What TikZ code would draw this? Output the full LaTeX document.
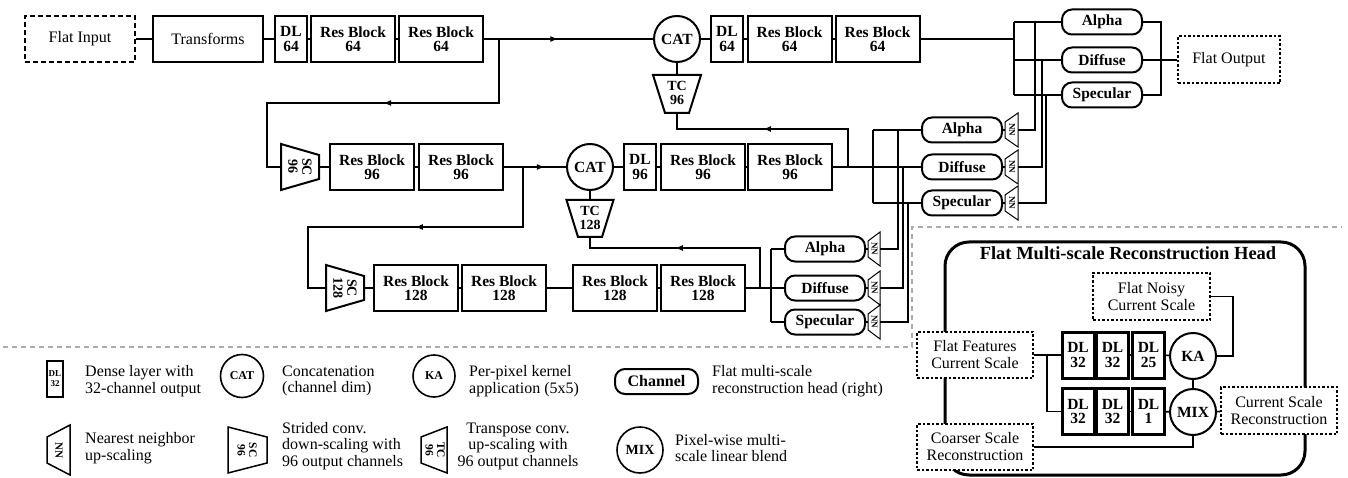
\documentclass[tikz,border=0pt]{standalone}
\usepackage{fontspec}
\setmainfont{Liberation Serif}
\usetikzlibrary{calc,arrows.meta,decorations.markings}
\begin{document}
\begin{tikzpicture}[x=1pt,y=-1pt,
  conn/.style={line width=1.6pt, line join=miter},
  marr/.style={postaction={decorate}, decoration={markings, mark=at position #1 with {\arrow{Latex[length=8pt,width=6pt]}}}},
  bfm/.style={font=\fontsize{15.5}{14.5}\selectfont\bfseries},
  blk/.style={draw, line width=2pt, inner sep=0pt, align=center, minimum height=46pt, bfm},
  dlbox/.style={blk, minimum width=32pt},
  resbox/.style={blk, minimum width=84pt},
  plainbox/.style={draw, line width=2pt, inner sep=0pt, align=center, minimum height=46pt, minimum width=110pt, font=\fontsize{16}{17}\selectfont},
  catc/.style={draw, circle, line width=2pt, minimum size=46pt, inner sep=0pt, font=\fontsize{15.5}{15}\selectfont\bfseries},
  pill/.style={draw, rounded corners=10pt, line width=2pt, minimum width=80pt, minimum height=25pt, inner sep=0pt, font=\fontsize{15.5}{15}\selectfont\bfseries},
  ghost/.style={inner sep=0pt, outer sep=0pt},
  trap/.style={line width=2pt, line join=miter},
  nnline/.style={line width=1pt, line join=miter},
  nntext/.style={rotate=-90, inner sep=0pt, font=\fontsize{9}{9}\selectfont\bfseries},
  traptext/.style={inner sep=0pt, align=center, font=\fontsize{14}{14}\selectfont\bfseries},
  dotbox/.style={draw, fill=white, line width=2pt, dash pattern=on 2.5pt off 2pt, inner sep=0pt, align=center, minimum width=116pt, minimum height=46pt, font=\fontsize{16}{17}\selectfont},
  hdl/.style={draw, line width=3pt, inner sep=0pt, align=center, minimum width=32pt, minimum height=46pt, bfm},
  legtext/.style={inner sep=0pt, align=left, font=\fontsize{16}{16.5}\selectfont},
]
\useasboundingbox (0,0) rectangle (1348,478);

% ---------- separators ----------
\draw[gray!65, line width=1.2pt, dash pattern=on 5pt off 4pt] (3,347) -- (912,347) -- (912,227) -- (1342,227);

% ---------- row 1 ----------
\node[plainbox, dash pattern=on 5pt off 3pt, line width=2.5pt] (fin) at (80,39) {Flat Input};
\node[plainbox] (tr) at (208,39) {Transforms};
\node[dlbox] (dl1) at (291,39) {DL\\64};
\node[resbox] (rb1a) at (353,39) {Res Block\\64};
\node[resbox] (rb1b) at (441,39) {Res Block\\64};
\node[catc] (cat1) at (677,39) {CAT};
\node[dlbox] (dl1b) at (727,39) {DL\\64};
\node[resbox] (rb1c) at (789.5,39) {Res Block\\64};
\node[resbox] (rb1d) at (877.5,39) {Res Block\\64};
\node[ghost, minimum width=48pt, minimum height=38pt] (tc96) at (677,94) {};
\draw[trap] (tc96.north west) -- (tc96.north east) -- ([xshift=-12pt]tc96.south east) -- ([xshift=12pt]tc96.south west) -- cycle;
\node[traptext] (tc96t) at (677,93) {TC\\96};

\draw[conn] (fin) -- (tr);
\draw[conn] (tr) -- (dl1);
\draw[conn] (dl1) -- (rb1a);
\draw[conn] (rb1a) -- (rb1b);
\draw[conn, marr=0.44] (rb1b) -- (cat1);
\draw[conn] (cat1) -- (dl1b);
\draw[conn] (dl1b) -- (rb1c);
\draw[conn] (rb1c) -- (rb1d);
\draw[conn] (cat1) -- (tc96);

% heads row 1
\node[pill] (alpha1) at (1102,22) {Alpha};
\node[pill] (diff1) at (1102,60) {Diffuse};
\node[pill] (spec1) at (1102,95) {Specular};
\node[plainbox, minimum width=102pt, minimum height=47pt, dash pattern=on 2.5pt off 2pt] (fout) at (1229,60) {Flat Output};
\coordinate (ba1) at (1014,22);
\coordinate (bm1) at (1014,39);
\coordinate (bd1) at (1014,60);
\coordinate (bs1) at (1014,95);
\coordinate (oa1) at (1161,22);
\coordinate (os1) at (1161,95);
\draw[conn] (rb1d) -- (bm1);
\draw[conn] (ba1) -- (bs1);
\draw[conn] (ba1) -- (alpha1);
\draw[conn] (bd1) -- (diff1);
\draw[conn] (bs1) -- (spec1);
\draw[conn] (alpha1) -- (oa1) -- (os1) -- (spec1);
\draw[conn] (diff1) -- (fout);

% ---------- row 2 ----------
\node[ghost, minimum width=38pt, minimum height=46pt] (sc96) at (300,167) {};
\draw[trap] (sc96.north west) -- (sc96.south west) -- ([yshift=11pt]sc96.south east) -- ([yshift=-11pt]sc96.north east) -- cycle;
\node[traptext, rotate=-90] (sc96t) at (300,167) {SC\\96};
\node[resbox] (rb2a) at (372,167) {Res Block\\96};
\node[resbox] (rb2b) at (461,167) {Res Block\\96};
\node[catc] (cat2) at (590,167) {CAT};
\node[dlbox] (dl2) at (640,167) {DL\\96};
\node[resbox] (rb2c) at (703,167) {Res Block\\96};
\node[resbox] (rb2d) at (790,167) {Res Block\\96};
\node[ghost, minimum width=47pt, minimum height=37pt] (tc128) at (590,218.5) {};
\draw[trap] (tc128.north west) -- (tc128.north east) -- ([xshift=-11.5pt]tc128.south east) -- ([xshift=11.5pt]tc128.south west) -- cycle;
\node[traptext] (tc128t) at (590,217.5) {TC\\128};

\draw[conn] (sc96) -- (rb2a);
\draw[conn] (rb2a) -- (rb2b);
\draw[conn, marr=0.66] (rb2b) -- (cat2);
\draw[conn] (cat2) -- (dl2);
\draw[conn] (dl2) -- (rb2c);
\draw[conn] (rb2c) -- (rb2d);
\draw[conn] (cat2) -- (tc128);

% heads row 2
\node[pill] (alpha2) at (962,130) {Alpha};
\node[pill] (diff2) at (962,167) {Diffuse};
\node[pill] (spec2) at (962,203) {Specular};
\foreach \nm/\yy in {nn2a/130, nn2b/167, nn2c/203}{
  \node[ghost, minimum width=13pt, minimum height=34pt] (\nm) at (1011.5,\yy) {};
  \draw[nnline] (\nm.north east) -- (\nm.south east) -- ([yshift=9pt]\nm.south west) -- ([yshift=-9pt]\nm.north west) -- cycle;
  \node[nntext] (\nm t) at (1012,\yy) {NN};
}
\coordinate (ba2) at (873,130);
\coordinate (bm2) at (873,167);
\coordinate (bs2) at (873,203);
\draw[conn] (rb2d) -- (bm2);
\draw[conn] (ba2) -- (bs2);
\draw[conn] (ba2) -- (alpha2);
\draw[conn] (bm2) -- (diff2);
\draw[conn] (bs2) -- (spec2);
\draw[conn] (alpha2) -- (nn2a);
\draw[conn] (diff2) -- (nn2b);
\draw[conn] (spec2) -- (nn2c);
\coordinate (ua) at (1035,22);
\coordinate (ud) at (1042,60);
\coordinate (us) at (1046,95);
\draw[conn] (nn2a.east) -| (ua);
\draw[conn] (nn2b.east) -| (ud);
\draw[conn] (nn2c.east) -| (us);

% ---------- row 3 ----------
\node[ghost, minimum width=38pt, minimum height=46pt] (sc128) at (345,288) {};
\draw[trap] (sc128.north west) -- (sc128.south west) -- ([yshift=11pt]sc128.south east) -- ([yshift=-11pt]sc128.north east) -- cycle;
\node[traptext, rotate=-90] (sc128t) at (345,288) {SC\\128};
\node[resbox] (rb3a) at (416,288) {Res Block\\128};
\node[resbox] (rb3b) at (504,288) {Res Block\\128};
\node[resbox] (rb3c) at (615,288) {Res Block\\128};
\node[resbox] (rb3d) at (703,288) {Res Block\\128};
\draw[conn] (sc128) -- (rb3a);
\draw[conn] (rb3a) -- (rb3b);
\draw[conn] (rb3b) -- (rb3c);
\draw[conn] (rb3c) -- (rb3d);

% heads row 3
\node[pill] (alpha3) at (825,249) {Alpha};
\node[pill] (diff3) at (825,288) {Diffuse};
\node[pill] (spec3) at (825,322) {Specular};
\foreach \nm/\yy in {nn3a/249, nn3b/288, nn3c/322}{
  \node[ghost, minimum width=12pt, minimum height=34pt] (\nm) at (874,\yy) {};
  \draw[nnline] (\nm.north east) -- (\nm.south east) -- ([yshift=9pt]\nm.south west) -- ([yshift=-9pt]\nm.north west) -- cycle;
  \node[nntext] (\nm t) at (874.5,\yy) {NN};
}
\coordinate (ba3) at (771,249);
\coordinate (bm3) at (771,288);
\coordinate (bs3) at (771,322);
\draw[conn] (rb3d) -- (bm3);
\draw[conn] (ba3) -- (bs3);
\draw[conn] (ba3) -- (alpha3);
\draw[conn] (bm3) -- (diff3);
\draw[conn] (bs3) -- (spec3);
\draw[conn] (alpha3) -- (nn3a);
\draw[conn] (diff3) -- (nn3b);
\draw[conn] (spec3) -- (nn3c);
\coordinate (va) at (898,130);
\coordinate (vd) at (903,167);
\coordinate (vs) at (908,203);
\draw[conn] (nn3a.east) -| (va);
\draw[conn] (nn3b.east) -| (vd);
\draw[conn] (nn3c.east) -| (vs);

% ---------- inter-row links ----------
\coordinate (j1) at (499,39);
\coordinate (k1) at (267,103);
\draw[conn, marr=0.481] (j1) |- (k1) |- (sc96.west);
\coordinate (j2) at (523,167);
\coordinate (k2) at (308,227);
\draw[conn, marr=0.475] (j2) |- (k2) |- (sc128.west);
\coordinate (j3) at (848,167);
\coordinate (k3) at (677,129);
\draw[conn, marr=0.547] (j3) |- (k3) -- (tc96.south);
\coordinate (j4) at (760,288);
\coordinate (k4) at (590,248);
\draw[conn, marr=0.566] (j4) |- (k4) -- (tc128.south);

% ---------- reconstruction head ----------
\node[draw, line width=3pt, rounded corners=24pt, minimum width=360pt, minimum height=233pt, ghost] (headbox) at (1125,358.5) {};
\node[inner sep=0pt, font=\fontsize{18.5}{19}\selectfont\bfseries] (htitle) at (1128,253) {Flat Multi-scale Reconstruction Head};
\node[dotbox, minimum width=117pt, minimum height=47pt] (noisy) at (1151.5,296.5) {Flat Noisy\\Current Scale};
\node[dotbox] (feat) at (975,355) {Flat Features\\Current Scale};
\node[dotbox] (coarse) at (975,447) {Coarser Scale\\Reconstruction};
\node[dotbox, minimum height=47pt] (curr) at (1279,410.5) {Current Scale\\Reconstruction};
\node[hdl] (h1) at (1078,355) {DL\\32};
\node[hdl] (h2) at (1112.5,355) {DL\\32};
\node[hdl] (h3) at (1148.5,355) {DL\\25};
\node[catc] (ka) at (1193,356) {KA};
\node[hdl] (h4) at (1078,411.5) {DL\\32};
\node[hdl] (h5) at (1112.5,411.5) {DL\\32};
\node[hdl] (h6) at (1148.5,411.5) {DL\\1};
\node[catc] (mix) at (1193,412) {MIX};
\coordinate (fj) at (1047,355);
\coordinate (kj) at (1233,356);
\draw[conn] (feat) -- (h1);
\draw[conn] (fj) |- (h4.west);
\draw[conn] (h1) -- (h2);
\draw[conn] (h2) -- (h3);
\draw[conn] (h3) -- (ka);
\draw[conn] (h4) -- (h5);
\draw[conn] (h5) -- (h6);
\draw[conn] (h6) -- (mix);
\draw[conn] (ka.east) -- (kj) |- (noisy.east);
\draw[conn] (ka) -- (mix);
\draw[conn] (mix) -- (curr);
\draw[conn] (coarse.east) -| (mix.south);

% ---------- legend ----------
\node[draw, line width=1.5pt, minimum width=16pt, minimum height=36pt, inner sep=0pt, align=center, font=\fontsize{9}{10}\selectfont\bfseries] (ldl) at (55,379) {DL\\32};
\node[legtext, anchor=west] (ldlt) at (85,381) {Dense layer with\\32-channel output};
\node[draw, circle, line width=1.6pt, minimum size=43pt, inner sep=0pt, font=\fontsize{12}{12}\selectfont\bfseries] (lcat) at (242,376) {CAT};
\node[legtext, anchor=west] (lcatt) at (282,381) {Concatenation\\(channel dim)};
\node[draw, circle, line width=1.6pt, minimum size=42pt, inner sep=0pt, font=\fontsize{12}{12}\selectfont\bfseries] (lka) at (434,376) {KA};
\node[legtext, anchor=west] (lkat) at (469,381) {Per-pixel kernel\\application (5x5)};
\node[pill, minimum width=83pt, font=\fontsize{16}{16}\selectfont\bfseries] (lch) at (656.5,381.5) {Channel};
\node[legtext, anchor=west] (lcht) at (712,381) {Flat multi-scale\\reconstruction head (right)};

\node[ghost, minimum width=23pt, minimum height=50pt] (lnn) at (58.5,450) {};
\draw[line width=1.5pt, line join=miter] (lnn.north east) -- (lnn.south east) -- ([yshift=12pt]lnn.south west) -- ([yshift=-12pt]lnn.north west) -- cycle;
\node[nntext, font=\fontsize{11}{11}\selectfont\bfseries] (lnnt2) at (59,450) {NN};
\node[legtext, anchor=west] (lnnt) at (85,448) {Nearest neighbor\\up-scaling};
\node[ghost, minimum width=39pt, minimum height=46pt] (lsc) at (247.5,450) {};
\draw[line width=1.5pt, line join=miter] (lsc.north west) -- (lsc.south west) -- ([yshift=10pt]lsc.south east) -- ([yshift=-10pt]lsc.north east) -- cycle;
\node[traptext, rotate=-90, font=\fontsize{11.5}{11.5}\selectfont\bfseries] (lsct2) at (247,450) {SC\\96};
\node[legtext, anchor=west] (lsct) at (282,446) {Strided conv.\\down-scaling with\\96 output channels};
\node[ghost, minimum width=26pt, minimum height=46pt] (ltc) at (434,450) {};
\draw[line width=1.5pt, line join=miter] (ltc.north east) -- (ltc.south east) -- ([yshift=10pt]ltc.south west) -- ([yshift=-10pt]ltc.north west) -- cycle;
\node[traptext, rotate=-90, font=\fontsize{11.5}{11.5}\selectfont\bfseries] (ltct2) at (435,450) {TC\\96};
\node[legtext, align=center] (ltct) at (518,446) {Transpose conv.\\up-scaling with\\96 output channels};
\node[draw, circle, line width=1.6pt, minimum size=46pt, inner sep=0pt, font=\fontsize{14}{14}\selectfont\bfseries] (lmix) at (640,450) {MIX};
\node[legtext, anchor=west] (lmixt) at (675,448) {Pixel-wise multi-\\scale linear blend};
\end{tikzpicture}
\end{document}
